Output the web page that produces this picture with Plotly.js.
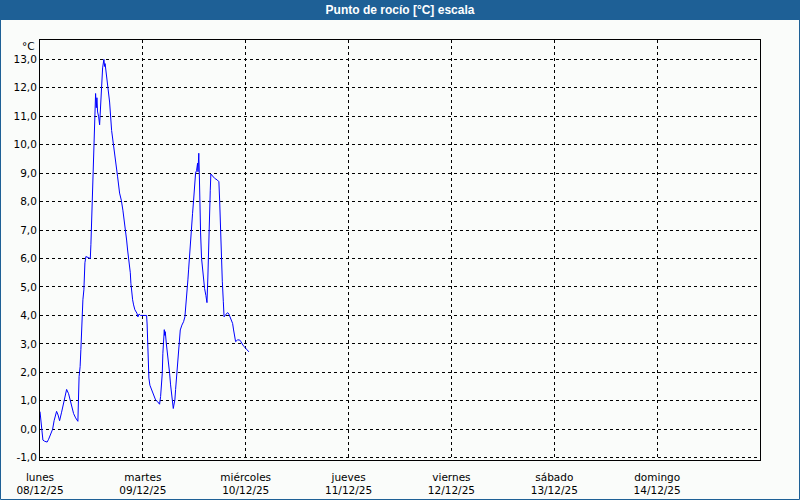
<!DOCTYPE html>
<html>
<head>
<meta charset="utf-8">
<script src="https://cdn.plot.ly/plotly-3.0.1.min.js"></script>
<style>
html,body{margin:0;padding:0;background:#fafcfa;}
#chart{width:800px;height:500px;}
</style>
</head>
<body>
<div id="chart"></div>
<script>
// Hours since lunes 08/12/25 00:00
const hours = [0.0,0.26,0.68,1.07,1.66,2.01,2.47,2.94,3.29,3.87,4.22,4.57,5.04,5.51,5.97,6.21,6.67,7.02,7.37,7.84,8.31,8.84,9.12,9.36,9.54,9.78,10.01,10.24,10.48,10.71,11.11,11.74,11.88,12.11,12.27,12.51,12.74,12.97,13.14,13.28,13.44,13.67,13.91,14.07,14.3,14.44,14.61,14.91,15.07,15.19,15.38,15.66,15.89,16.24,16.71,17.24,17.71,18.11,18.57,18.97,19.34,19.67,19.97,20.21,20.44,20.67,20.91,21.07,21.21,21.37,21.61,21.84,22.14,22.61,22.84,23.12,23.47,24.17,24.87,24.99,25.1,25.27,25.41,25.64,26.04,26.5,26.97,27.44,27.9,28.14,28.53,28.67,28.84,29.0,29.09,29.23,29.47,29.77,30.0,30.24,30.47,30.7,30.94,31.1,31.24,31.47,31.64,31.94,32.1,32.41,32.73,33.11,33.5,33.81,34.04,34.27,34.51,34.67,34.9,35.14,35.37,35.6,35.84,36.07,36.3,36.54,36.77,36.86,37.05,37.17,37.28,37.47,37.7,38.05,38.4,38.71,38.96,39.17,39.29,39.41,39.57,39.73,39.87,40.11,40.34,40.74,41.37,41.74,41.93,42.07,42.3,42.54,42.77,42.95,43.47,43.77,44.07,44.31,44.7,44.94,45.17,45.33,45.47,45.64,46.1,46.57,46.87,47.04,47.34,47.67,47.97,48.27,48.74];
// Dew point [°C]
const dewPoint = [0.62,0.3,-0.38,-0.42,-0.45,-0.35,-0.2,0.0,0.3,0.63,0.5,0.3,0.6,0.95,1.35,1.4,1.25,1.05,0.75,0.55,0.4,0.28,1.85,2.2,2.8,3.85,4.55,4.9,5.85,6.07,6.05,6.0,6.5,7.7,8.87,10.05,11.2,11.8,11.3,11.65,11.15,11.0,10.7,11.3,11.6,12.15,12.7,13.0,12.75,12.85,12.6,12.3,11.95,11.5,10.5,9.8,9.35,8.87,8.3,8.05,7.7,7.35,7.0,6.65,6.3,6.06,5.85,5.5,5.13,4.8,4.55,4.37,4.2,4.08,3.95,4.05,4.0,4.0,4.0,3.7,3.05,2.33,1.8,1.55,1.38,1.17,1.03,0.97,0.88,1.15,1.97,2.67,3.2,3.5,3.3,3.43,3.02,2.67,2.3,1.97,1.56,1.15,0.85,0.73,0.85,1.03,1.4,1.97,2.43,3.02,3.49,3.66,3.78,3.95,4.3,4.78,5.25,5.6,6.18,6.65,7.12,7.59,8.05,8.52,9.0,9.1,9.35,9.05,9.7,9.0,7.8,6.9,6.0,5.3,4.95,4.7,4.45,5.35,6.17,7.3,8.05,8.4,8.97,8.93,8.87,8.82,8.76,8.7,8.0,7.1,6.0,5.2,4.5,3.95,4.05,4.1,4.05,3.96,3.84,3.72,3.49,3.31,3.14,3.08,3.14,3.14,3.08,3.02,2.96,2.9,2.84,2.78,2.72];
const dayDates = ['2025-12-08','2025-12-09','2025-12-10','2025-12-11','2025-12-12','2025-12-13','2025-12-14','2025-12-15'];
const dayNames = ['lunes','martes','miércoles','jueves','viernes','sábado','domingo',''];
const dayLabels = ['08/12/25','09/12/25','10/12/25','11/12/25','12/12/25','13/12/25','14/12/25',''];
const yTicks = [-1,0,1,2,3,4,5,6,7,8,9,10,11,12,13];

function pad(n){return (n<10?'0':'')+n;}
function hourToDate(h){
  const d = new Date(Date.UTC(2025,11,8) + Math.round(h*3600000));
  return d.getUTCFullYear()+'-'+pad(d.getUTCMonth()+1)+'-'+pad(d.getUTCDate())+' '+pad(d.getUTCHours())+':'+pad(d.getUTCMinutes())+':'+pad(d.getUTCSeconds());
}
const xs = hours.map(hourToDate);

const W=800,H=500,L=40,R=40,T=40,B=40;
const pw=W-L-R, ph=H-T-B;
const px=x=>(x-L)/pw, py=y=>(H-B-y)/ph;
const blue='#1e6096';
const font='DejaVu Sans';

const trace={x:xs,y:dewPoint,type:'scatter',mode:'lines',line:{color:'#0000ff',width:1},hoverinfo:'skip'};

const layout={
  width:W,height:H,
  margin:{l:L,r:R,t:T,b:B,pad:0},
  paper_bgcolor:'#fafcfa',plot_bgcolor:'#fafcfa',
  separators:',.',
  showlegend:false,
  font:{family:font,size:10,color:'#000'},
  title:{text:'<b>Punto de rocío [°C] escala</b>',font:{family:'Liberation Sans',size:12,color:'#ffffff'},x:0.5,xanchor:'center',y:1-10/H,yanchor:'middle',yref:'container'},
  xaxis:{type:'date',range:[dayDates[0],dayDates[7]],tickmode:'array',tickvals:dayDates,
    ticktext:dayNames.map((n,i)=>n?n+'<br>'+dayLabels[i]:''),
    showgrid:true,gridcolor:'#000',gridwidth:1,griddash:'3px,3px',
    showline:true,linecolor:'#000',linewidth:1,mirror:true,ticks:'',zeroline:false,
    ticklabelstandoff:7,
    tickfont:{family:font,size:10.5,color:'#000'},fixedrange:true},
  yaxis:{range:[-1.08,13.68],tickmode:'array',tickvals:yTicks,ticktext:yTicks.map(v=>v.toFixed(1).replace('.',',')),
    showgrid:true,gridcolor:'#000',gridwidth:1,griddash:'3px,3px',
    showline:true,linecolor:'#000',linewidth:1,mirror:true,ticks:'',zeroline:false,
    tickfont:{family:font,size:10.5,color:'#000'},fixedrange:true},
  shapes:[
    {type:'rect',xref:'paper',yref:'paper',x0:px(0),x1:px(W),y0:py(20),y1:py(0),fillcolor:blue,line:{width:0},layer:'below'},
    {type:'rect',xref:'paper',yref:'paper',x0:px(0.5),x1:px(W-0.5),y0:py(H-0.5),y1:py(0.5),line:{color:blue,width:1},fillcolor:'rgba(0,0,0,0)',layer:'above'}
  ],
  annotations:[
    {text:'°C',xref:'paper',yref:'paper',x:px(37),y:py(46),xanchor:'right',yanchor:'middle',showarrow:false,font:{family:font,size:10.5,color:'#000'}}
  ]
};
Plotly.newPlot('chart',[trace],layout,{displayModeBar:false,staticPlot:true});
</script>
</body>
</html>
